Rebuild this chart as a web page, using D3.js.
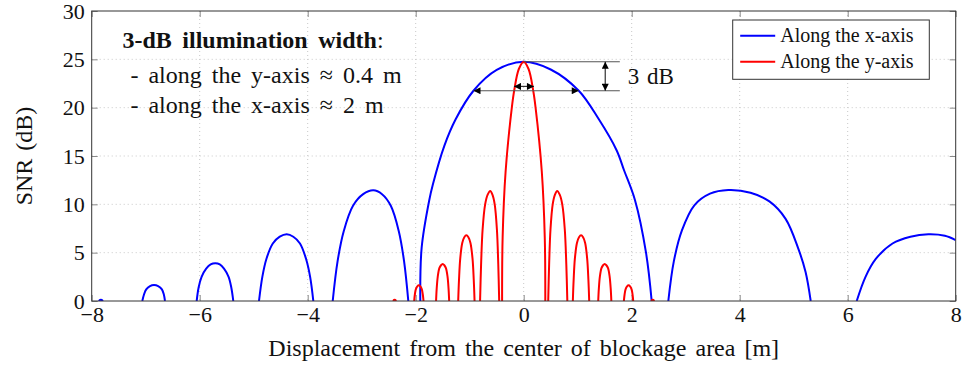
<!DOCTYPE html>
<html>
<head>
<meta charset="utf-8">
<script src="https://cdn.jsdelivr.net/npm/d3@7"></script>
<style>
  body { margin: 0; background: #fff; }
  text { font-family: "Liberation Serif", "Times New Roman", serif; }
</style>
</head>
<body>
<svg id="chart"></svg>
<script>
// ---- data ----
const xTicks = [-8, -6, -4, -2, 0, 2, 4, 6, 8];
const yTicks = [0, 5, 10, 15, 20, 25, 30];
const seriesNames = ['Along the x-axis', 'Along the y-axis'];
const seriesColors = ['#0000ff', '#ff0000'];

// SNR lobes along the x-axis (each lobe is cut at 0 dB)
const xAxisLobes = [
  [[-7.87,0],[-7.83,0.12],[-7.79,0]],
  [[-7.063,0],[-7.03,0.7],[-6.99,1.2],[-6.92,1.55],[-6.846,1.65],[-6.77,1.55],[-6.70,1.2],[-6.665,0.7],[-6.643,0]],
  [[-6.056,0],[-6.02,1.4],[-5.965,2.5],[-5.88,3.35],[-5.797,3.78],[-5.711,3.9],[-5.628,3.78],[-5.55,3.35],[-5.465,2.5],[-5.415,1.4],[-5.378,0]],
  [[-4.902,0],[-4.84,2.5],[-4.765,4.35],[-4.646,5.95],[-4.517,6.65],[-4.389,6.9],[-4.266,6.65],[-4.143,5.95],[-4.03,4.35],[-3.955,2.5],[-3.896,0]],
  [[-3.537,0],[-3.447,4.1],[-3.334,7.2],[-3.161,9.85],[-2.973,11.05],[-2.785,11.45],[-2.623,11.05],[-2.461,9.85],[-2.312,7.2],[-2.215,4.1],[-2.137,0]],
  [[-1.915,0],[-1.89,5.5],[-1.75,10.4],[-1.68,12.1],[-1.47,16.05],[-1.26,18.8],[-0.93,21.75],[-0.5,23.9],[0,24.75],[0.5,23.95],[1.02,21.75],[1.38,18.9],[1.72,15.6],[1.86,13.5],[2.06,10.45],[2.265,5],[2.37,0]],
  [[2.678,0],[2.78,4.1],[2.93,7.3],[3.16,9.9],[3.45,11.1],[3.789,11.48],[4.2,11.2],[4.55,10.3],[4.85,8.5],[5.08,5.5],[5.22,3.0],[5.315,0]],
  [[6.167,0],[6.33,2.5],[6.52,4.35],[6.83,5.95],[7.162,6.65],[7.493,6.9],[7.8,6.75],[8,6.3]]
];

// SNR lobes along the y-axis
const yAxisLobes = [
  [[-2.42,0],[-2.39,0.12],[-2.36,0]],
  [[-2.028,0],[-2.015,0.7],[-1.998,1.2],[-1.97,1.52],[-1.942,1.62],[-1.914,1.52],[-1.886,1.2],[-1.869,0.7],[-1.855,0]],
  [[-1.623,0],[-1.611,1.3],[-1.592,2.5],[-1.562,3.4],[-1.531,3.7],[-1.50,3.83],[-1.47,3.7],[-1.44,3.4],[-1.41,2.5],[-1.392,1.3],[-1.38,0]],
  [[-1.213,0],[-1.198,2.2],[-1.175,4.4],[-1.138,6.0],[-1.100,6.6],[-1.062,6.8],[-1.024,6.6],[-0.986,6.0],[-0.948,4.4],[-0.925,2.2],[-0.91,0]],
  [[-0.808,0],[-0.789,3.8],[-0.761,7.4],[-0.714,10.0],[-0.667,11.0],[-0.62,11.38],[-0.579,11.0],[-0.537,10.0],[-0.496,7.4],[-0.471,3.8],[-0.454,0]],
  [[-0.40,0],[-0.39,6.6],[-0.335,13.4],[-0.22,20],[-0.175,21.8],[-0.09,24],[0,24.75],[0.09,24],[0.175,21.8],[0.22,20],[0.335,13.4],[0.39,6.6],[0.40,0]],
  [[0.454,0],[0.471,3.8],[0.496,7.4],[0.537,10.0],[0.579,11.0],[0.62,11.38],[0.667,11.0],[0.714,10.0],[0.761,7.4],[0.789,3.8],[0.808,0]],
  [[0.91,0],[0.925,2.2],[0.948,4.4],[0.986,6.0],[1.024,6.6],[1.062,6.8],[1.100,6.6],[1.138,6.0],[1.175,4.4],[1.198,2.2],[1.213,0]],
  [[1.38,0],[1.392,1.3],[1.41,2.5],[1.44,3.4],[1.47,3.7],[1.50,3.83],[1.531,3.7],[1.562,3.4],[1.592,2.5],[1.611,1.3],[1.623,0]],
  [[1.855,0],[1.869,0.7],[1.886,1.2],[1.914,1.52],[1.942,1.62],[1.97,1.52],[1.998,1.2],[2.015,0.7],[2.028,0]],
  [[2.36,0],[2.39,0.12],[2.42,0]]
];

// 3-dB annotation
const peakSNR = 24.75;
const halfSNR = 21.75;
const xAxisHalfWidth = [-0.93, 1.02];
const yAxisHalfWidth = [-0.18, 0.19];
const yArrowSNR = 22.2;
const bracketX = [0, 1.78];   // extent of the two reference lines
const bracketLowX = 1.1;
const bracketArrowX = 1.51;
const noteLines = ['- along the y-axis \u2248 0.4 m', '- along the x-axis \u2248 2 m'];

// ---- chart ----
const width = 963, height = 371;
const margin = {top: 11, right: 7.3, bottom: 70, left: 91.7};
const innerW = width - margin.left - margin.right;
const innerH = height - margin.top - margin.bottom;
const serif = '"Liberation Serif", "Times New Roman", serif';

const svg = d3.select('#chart')
  .attr('width', width)
  .attr('height', height);

const chart = svg.append('g')
  .attr('transform', `translate(${margin.left}, ${margin.top})`);

const xscale = d3.scaleLinear().domain([-8, 8]).range([0, innerW]);
const yscale = d3.scaleLinear().domain([0, 30]).range([innerH, 0]);

svg.append('defs').append('clipPath')
  .attr('id', 'clip')
  .append('rect')
  .attr('width', innerW)
  .attr('height', innerH);

// grid
chart.append('g').selectAll('line')
  .data(xTicks.slice(1, -1))
  .join('line')
  .attr('x1', d => xscale(d)).attr('x2', d => xscale(d))
  .attr('y1', 0).attr('y2', innerH)
  .attr('stroke', '#c8c8c8')
  .attr('stroke-dasharray', '1,3');

chart.append('g').selectAll('line')
  .data(yTicks.slice(1, -1))
  .join('line')
  .attr('x1', 0).attr('x2', innerW)
  .attr('y1', d => yscale(d)).attr('y2', d => yscale(d))
  .attr('stroke', '#c8c8c8')
  .attr('stroke-dasharray', '1,3');

// axes (ticks point inward, on all four sides)
const tickLen = 6;
const fmt = d => d < 0 ? '\u2212' + Math.abs(d) : String(d);

const xaxis = chart.append('g')
  .attr('transform', `translate(0, ${innerH})`)
  .call(d3.axisBottom(xscale).tickValues(xTicks).tickSize(-tickLen).tickPadding(5).tickFormat(fmt));
const xaxisTop = chart.append('g')
  .call(d3.axisTop(xscale).tickValues(xTicks).tickSize(-tickLen).tickFormat(''));
const yaxis = chart.append('g')
  .call(d3.axisLeft(yscale).tickValues(yTicks).tickSize(-tickLen).tickPadding(7).tickFormat(fmt));
const yaxisRight = chart.append('g')
  .attr('transform', `translate(${innerW}, 0)`)
  .call(d3.axisRight(yscale).tickValues(yTicks).tickSize(-tickLen).tickFormat(''));

[xaxis, xaxisTop, yaxis, yaxisRight].forEach(g => {
  g.attr('font-family', serif).attr('font-size', 22);
  g.select('.domain').remove();
  g.selectAll('.tick line').attr('stroke', '#8a8a8a');
  g.selectAll('.tick text').attr('fill', '#111');
});

// curves
const line = d3.line()
  .x(d => xscale(d[0]))
  .y(d => yscale(d[1]))
  .curve(d3.curveCatmullRom.alpha(0.5));

const plot = chart.append('g').attr('clip-path', 'url(#clip)');

plot.selectAll('path.blue')
  .data(xAxisLobes)
  .join('path')
  .attr('class', 'blue')
  .attr('d', line)
  .attr('fill', 'none')
  .attr('stroke', seriesColors[0])
  .attr('stroke-width', 2);

plot.selectAll('path.red')
  .data(yAxisLobes)
  .join('path')
  .attr('class', 'red')
  .attr('d', line)
  .attr('fill', 'none')
  .attr('stroke', seriesColors[1])
  .attr('stroke-width', 2);

// frame
chart.append('rect')
  .attr('width', innerW)
  .attr('height', innerH)
  .attr('fill', 'none')
  .attr('stroke', '#333')
  .attr('stroke-width', 1);

// arrow markers
const defs = svg.select('defs');
defs.append('marker')
  .attr('id', 'arrow')
  .attr('viewBox', '0 0 10 10')
  .attr('refX', 10).attr('refY', 5)
  .attr('markerWidth', 8).attr('markerHeight', 7)
  .attr('markerUnits', 'userSpaceOnUse')
  .attr('orient', 'auto-start-reverse')
  .append('path')
  .attr('d', 'M0,0 L10,5 L0,10 Z')
  .attr('fill', '#000');

// 3-dB annotation
const annot = chart.append('g');
annot.append('line')
  .attr('x1', xscale(bracketX[0])).attr('x2', xscale(bracketX[1]))
  .attr('y1', yscale(peakSNR)).attr('y2', yscale(peakSNR))
  .attr('stroke', '#555').attr('stroke-width', 1.2);
annot.append('line')
  .attr('x1', xscale(bracketLowX)).attr('x2', xscale(bracketX[1]))
  .attr('y1', yscale(halfSNR)).attr('y2', yscale(halfSNR))
  .attr('stroke', '#555').attr('stroke-width', 1.2);
annot.append('line')
  .attr('x1', xscale(bracketArrowX)).attr('x2', xscale(bracketArrowX))
  .attr('y1', yscale(peakSNR)).attr('y2', yscale(halfSNR))
  .attr('stroke', '#333').attr('stroke-width', 1.2)
  .attr('marker-start', 'url(#arrow)').attr('marker-end', 'url(#arrow)');
annot.append('line')
  .attr('x1', xscale(xAxisHalfWidth[0])).attr('x2', xscale(xAxisHalfWidth[1]))
  .attr('y1', yscale(halfSNR)).attr('y2', yscale(halfSNR))
  .attr('stroke', '#555').attr('stroke-width', 1.2)
  .attr('marker-start', 'url(#arrow)').attr('marker-end', 'url(#arrow)');
annot.append('line')
  .attr('x1', xscale(yAxisHalfWidth[0])).attr('x2', xscale(yAxisHalfWidth[1]))
  .attr('y1', yscale(yArrowSNR)).attr('y2', yscale(yArrowSNR))
  .attr('stroke', '#333').attr('stroke-width', 1.2)
  .attr('marker-start', 'url(#arrow)').attr('marker-end', 'url(#arrow)');
annot.append('text')
  .attr('x', xscale(bracketX[1]) + 8)
  .attr('y', yscale(halfSNR) - 7)
  .style('font-size', '23px')
  .attr('word-spacing', '2px')
  .attr('fill', '#111')
  .text('3 dB');

// note in the upper left
const note = chart.append('g')
  .attr('transform', `translate(${xscale(-7.43)}, 0)`);
const title = note.append('text')
  .attr('y', 37)
  .style('font-size', '24px')
  .attr('fill', '#111');
title.append('tspan').style('font-weight', 'bold').attr('word-spacing', '4.5px').text('3-dB illumination width');
title.append('tspan').text(':');
note.selectAll('text.item')
  .data(noteLines)
  .join('text')
  .attr('class', 'item')
  .attr('x', 8)
  .attr('y', (d, i) => 72 + i * 30)
  .style('font-size', '24px')
  .attr('word-spacing', '4px')
  .attr('fill', '#111')
  .text(d => d);

// legend
const legend = chart.append('g')
  .attr('transform', `translate(${innerW - 223}, 9)`);
legend.append('rect')
  .attr('width', 196.6).attr('height', 59.3)
  .attr('fill', '#fff')
  .attr('stroke', '#333').attr('stroke-width', 1);
const items = legend.selectAll('g.item')
  .data(seriesNames)
  .join('g')
  .attr('class', 'item')
  .attr('transform', (d, i) => `translate(0, ${15.7 + i * 26})`);
items.append('line')
  .attr('x1', 7.5).attr('x2', 42.5)
  .attr('stroke', (d, i) => seriesColors[i])
  .attr('stroke-width', 2);
items.append('text')
  .attr('x', 47.5).attr('y', 6)
  .style('font-size', '20px')
  .attr('fill', '#111')
  .text(d => d);

// axis labels
svg.append('text')
  .attr('x', margin.left + innerW / 2)
  .attr('y', 356)
  .attr('text-anchor', 'middle')
  .style('font-size', '24px')
  .attr('word-spacing', '3px')
  .attr('fill', '#111')
  .text('Displacement from the center of blockage area [m]');

svg.append('text')
  .attr('transform', `translate(32, ${margin.top + innerH / 2}) rotate(-90)`)
  .attr('text-anchor', 'middle')
  .style('font-size', '24px')
  .attr('word-spacing', '2px')
  .attr('fill', '#111')
  .text('SNR (dB)');
</script>
</body>
</html>
